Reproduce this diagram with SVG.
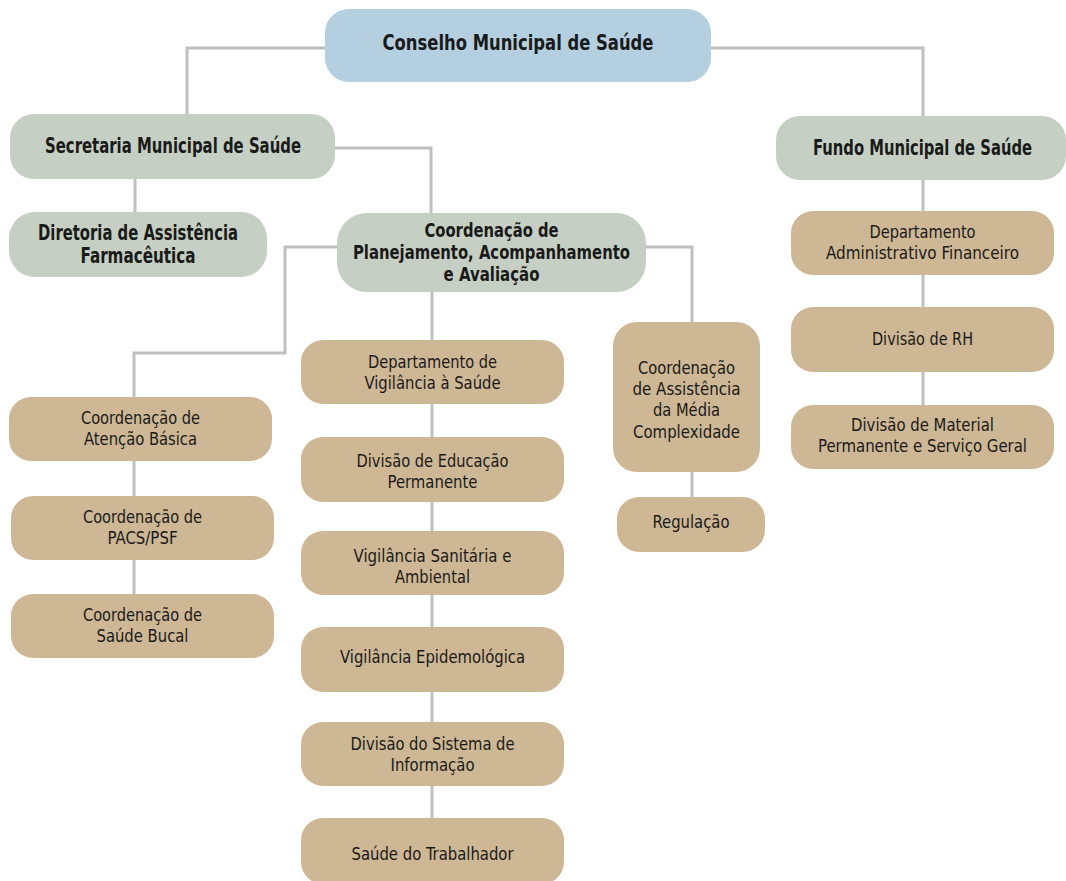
<svg xmlns="http://www.w3.org/2000/svg" width="1066" height="881" viewBox="0 0 1066 881">
<style>
.bg{fill:#ffffff}
.blue{fill:#b3cfe0}
.green{fill:#c5cfc3}
.tan{fill:#ceb794}
.conn{fill:none;stroke:#bfbfbf;stroke-width:3}
text{font-family:"Liberation Sans Narrow","DejaVu Sans Condensed","Liberation Sans",sans-serif;fill:#1a1a1a;text-anchor:middle}
.b{font-weight:bold;font-size:21px}
.b3{font-weight:bold;font-size:19px}
.n{font-size:18px}
</style>
<rect class="bg" x="0" y="0" width="1066" height="881"/>
<g id="connectors">
<path class="conn" d="M325,48 H187 V114"/>
<path class="conn" d="M711,48 H923 V116"/>
<path class="conn" d="M135,179 V212"/>
<path class="conn" d="M335,148 H431 V213"/>
<path class="conn" d="M337,247 H285 V353 H134 V397"/>
<path class="conn" d="M134,461 V496"/>
<path class="conn" d="M134,560 V594"/>
<path class="conn" d="M432,292 V818"/>
<path class="conn" d="M646,247 H692 V322"/>
<path class="conn" d="M692,472 V497"/>
<path class="conn" d="M923,180 V405"/>
</g>
<g id="conselho"><rect class="blue" x="325" y="9" width="386" height="73" rx="24"/><text class="b" style="font-size:22px" x="518" y="50" textLength="271" lengthAdjust="spacingAndGlyphs">Conselho Municipal de Saúde</text></g>
<g id="secretaria"><rect class="green" x="10" y="114" width="325" height="65" rx="24"/><text class="b" x="173" y="153" textLength="256" lengthAdjust="spacingAndGlyphs">Secretaria Municipal de Saúde</text></g>
<g id="fundo"><rect class="green" x="776" y="116" width="290" height="64" rx="24"/><text class="b" x="922.5" y="155" textLength="219" lengthAdjust="spacingAndGlyphs">Fundo Municipal de Saúde</text></g>
<g id="diretoria"><rect class="green" x="9" y="212" width="258" height="65" rx="26"/><text class="b" x="138" y="240" textLength="200" lengthAdjust="spacingAndGlyphs">Diretoria de Assistência</text><text class="b" x="138" y="263" textLength="115" lengthAdjust="spacingAndGlyphs">Farmacêutica</text></g>
<g id="coordPlanejamento"><rect class="green" x="337" y="213" width="309" height="79" rx="30"/><text class="b3" x="491.5" y="237" textLength="134" lengthAdjust="spacingAndGlyphs">Coordenação de</text><text class="b3" x="491.5" y="259" textLength="277" lengthAdjust="spacingAndGlyphs">Planejamento, Acompanhamento</text><text class="b3" x="491.5" y="281" textLength="96" lengthAdjust="spacingAndGlyphs">e Avaliação</text></g>
<g id="atencaoBasica"><rect class="tan" x="9" y="397" width="263" height="64" rx="22"/><text class="n" x="140.5" y="424" textLength="119" lengthAdjust="spacingAndGlyphs">Coordenação de</text><text class="n" x="140.5" y="445" textLength="113" lengthAdjust="spacingAndGlyphs">Atenção Básica</text></g>
<g id="pacsPsf"><rect class="tan" x="11" y="496" width="263" height="64" rx="22"/><text class="n" x="142.5" y="523" textLength="119" lengthAdjust="spacingAndGlyphs">Coordenação de</text><text class="n" x="142.5" y="544" textLength="70" lengthAdjust="spacingAndGlyphs">PACS/PSF</text></g>
<g id="saudeBucal"><rect class="tan" x="11" y="594" width="263" height="64" rx="22"/><text class="n" x="142.5" y="621" textLength="119" lengthAdjust="spacingAndGlyphs">Coordenação de</text><text class="n" x="142.5" y="642" textLength="92" lengthAdjust="spacingAndGlyphs">Saúde Bucal</text></g>
<g id="deptVigilancia"><rect class="tan" x="301" y="340" width="263" height="64" rx="22"/><text class="n" x="432.5" y="368" textLength="129" lengthAdjust="spacingAndGlyphs">Departamento de</text><text class="n" x="432.5" y="389" textLength="136" lengthAdjust="spacingAndGlyphs">Vigilância à Saúde</text></g>
<g id="divEducacao"><rect class="tan" x="301" y="437" width="263" height="65" rx="22"/><text class="n" x="432.5" y="467" textLength="152" lengthAdjust="spacingAndGlyphs">Divisão de Educação</text><text class="n" x="432.5" y="488" textLength="90" lengthAdjust="spacingAndGlyphs">Permanente</text></g>
<g id="vigSanitaria"><rect class="tan" x="301" y="531" width="263" height="64" rx="22"/><text class="n" x="432.5" y="562" textLength="158" lengthAdjust="spacingAndGlyphs">Vigilância Sanitária e</text><text class="n" x="432.5" y="583" textLength="75" lengthAdjust="spacingAndGlyphs">Ambiental</text></g>
<g id="vigEpidemiologica"><rect class="tan" x="301" y="627" width="263" height="65" rx="22"/><text class="n" x="432.5" y="663" textLength="185" lengthAdjust="spacingAndGlyphs">Vigilância Epidemológica</text></g>
<g id="divSistema"><rect class="tan" x="301" y="722" width="263" height="64" rx="22"/><text class="n" x="432.5" y="750" textLength="164" lengthAdjust="spacingAndGlyphs">Divisão do Sistema de</text><text class="n" x="432.5" y="771" textLength="84" lengthAdjust="spacingAndGlyphs">Informação</text></g>
<g id="saudeTrabalhador"><rect class="tan" x="301" y="818" width="263" height="66" rx="22"/><text class="n" x="432.5" y="860" textLength="162" lengthAdjust="spacingAndGlyphs">Saúde do Trabalhador</text></g>
<g id="coordMedia"><rect class="tan" x="613" y="322" width="147" height="150" rx="24"/><text class="n" x="686.5" y="374" textLength="97" lengthAdjust="spacingAndGlyphs">Coordenação</text><text class="n" x="686.5" y="395" textLength="108" lengthAdjust="spacingAndGlyphs">de Assistência</text><text class="n" x="686.5" y="416" textLength="67" lengthAdjust="spacingAndGlyphs">da Média</text><text class="n" x="686.5" y="438" textLength="107" lengthAdjust="spacingAndGlyphs">Complexidade</text></g>
<g id="regulacao"><rect class="tan" x="617" y="497" width="148" height="55" rx="22"/><text class="n" x="691" y="528" textLength="77" lengthAdjust="spacingAndGlyphs">Regulação</text></g>
<g id="deptAdmFin"><rect class="tan" x="791" y="211" width="263" height="64" rx="22"/><text class="n" x="922.5" y="238" textLength="106" lengthAdjust="spacingAndGlyphs">Departamento</text><text class="n" x="922.5" y="259" textLength="193" lengthAdjust="spacingAndGlyphs">Administrativo Financeiro</text></g>
<g id="divRH"><rect class="tan" x="791" y="307" width="263" height="65" rx="22"/><text class="n" x="922.5" y="345" textLength="101" lengthAdjust="spacingAndGlyphs">Divisão de RH</text></g>
<g id="divMaterial"><rect class="tan" x="791" y="405" width="263" height="64" rx="22"/><text class="n" x="922.5" y="431" textLength="143" lengthAdjust="spacingAndGlyphs">Divisão de Material</text><text class="n" x="922.5" y="452" textLength="209" lengthAdjust="spacingAndGlyphs">Permanente e Serviço Geral</text></g>
</svg>
